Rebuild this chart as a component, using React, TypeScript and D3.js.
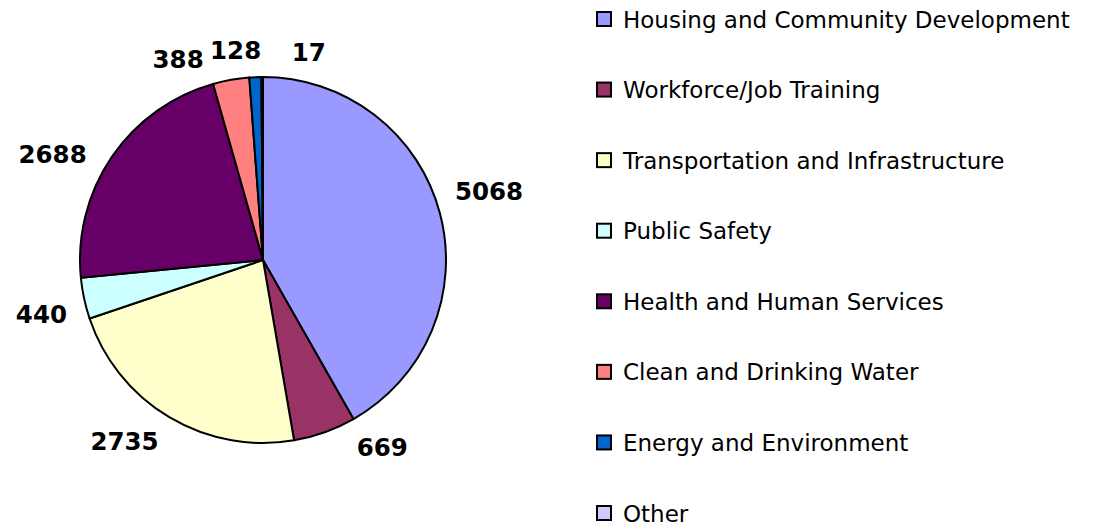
import React from "react";
import * as d3 from "d3";

const categories = [
  "Housing and Community Development",
  "Workforce/Job Training",
  "Transportation and Infrastructure",
  "Public Safety",
  "Health and Human Services",
  "Clean and Drinking Water",
  "Energy and Environment",
  "Other",
];
const values = [5068, 669, 2735, 440, 2688, 388, 128, 17];
const colors = ["#9999FF", "#993366", "#FFFFCC", "#CCFFFF", "#660066", "#FF8080", "#0066CC", "#CCCCFF"];
// label placement tweaks (degrees), mimicking Excel's label layout
const labelAngleNudge = [-2.5, -8.1, 0.5, -0.7, -5.6, -7.1, 1.9, 8.45];

const W = 1095;
const H = 526;
const cx = 263;
const cy = 260;
const R = 183;
const labelR = 201;
const labelFont = 24.5;

export default function App() {
  const pie = d3.pie<number>().sort(null).startAngle(0).endAngle(2 * Math.PI);
  const arcs = pie(values);
  const arc = d3.arc<d3.PieArcDatum<number>>().innerRadius(0).outerRadius(R);

  const legendY = d3.scalePoint<string>().domain(categories).range([19, 513]);

  const labels = arcs.map((a, i) => {
    const mid = (a.startAngle + a.endAngle) / 2 + (labelAngleNudge[i] * Math.PI) / 180;
    const s = Math.sin(mid);
    const c = -Math.cos(mid);
    const txt = String(values[i]);
    const tw = txt.length * 0.696 * labelFont;
    const th = 0.76 * labelFont;
    const sx = Math.abs(s) < 1e-3 ? 0 : Math.sign(s);
    const sy = Math.abs(c) < 1e-3 ? 0 : Math.sign(c);
    const x = cx + labelR * s + (sx * tw) / 2;
    const y = cy + labelR * c + (sy * th) / 2;
    return { x, y, tw, th, txt };
  });

  return (
    <svg
      width={W}
      height={H}
      style={{ position: "absolute", left: 0, top: 0, background: "#fff" }}
    >
      <g transform={`translate(${cx},${cy})`}>
        {arcs.map((a, i) => (
          <path
            key={i}
            d={arc(a) || ""}
            fill={colors[i]}
            stroke="#000"
            strokeWidth={2}
            strokeLinejoin="round"
          />
        ))}
      </g>
      {labels.map((l, i) => (
        <g key={i}>
          <rect
            x={l.x - l.tw / 2 - 7}
            y={l.y - l.th / 2 - 5}
            width={l.tw + 14}
            height={l.th + 20}
            fill="#fff"
          />
          <text
            x={l.x}
            y={l.y + (0.729 * labelFont) / 2}
            textAnchor="middle"
            fontFamily="DejaVu Sans, Verdana, sans-serif"
            fontWeight="bold"
            fontSize={labelFont}
            fill="#000"
          >
            {l.txt}
          </text>
        </g>
      ))}
      {categories.map((cat, i) => {
        const y = legendY(cat) as number;
        return (
          <g key={cat}>
            <rect x={597} y={y - 7} width={14} height={14} fill={colors[i]} stroke="#000" strokeWidth={2} />
            <text
              x={623}
              y={y + 8.5}
              fontFamily="DejaVu Sans, Verdana, sans-serif"
              fontSize={23}
              fill="#000"
            >
              {cat}
            </text>
          </g>
        );
      })}
    </svg>
  );
}
